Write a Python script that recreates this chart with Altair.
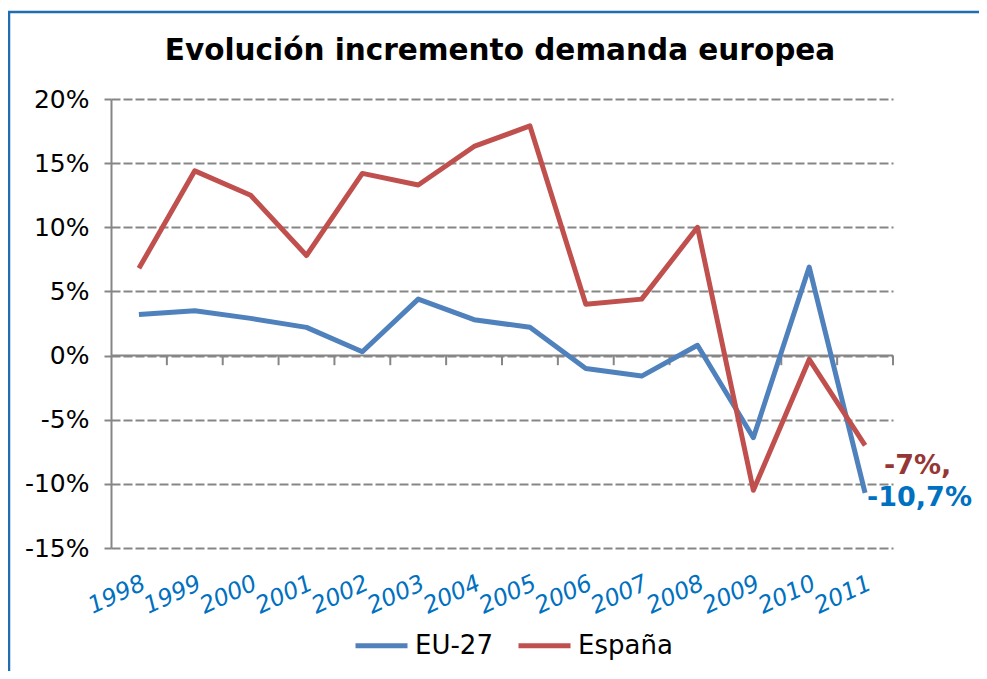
import altair as alt
import pandas as pd

# ---- data ----
years = [str(y) for y in range(1998, 2012)]
eu27 = [3.2, 3.5, 2.9, 2.2, 0.3, 4.4, 2.8, 2.2, -1.0, -1.6, 0.8, -6.4, 6.9, -10.7]
espana = [6.8, 14.4, 12.5, 7.8, 14.2, 13.3, 16.3, 17.9, 4.0, 4.4, 10.0, -10.5, -0.3, -7.0]
series_names = ["EU-27", "España"]
series_colors = ["#4F81BD", "#C0504D"]
y_ticks = [-15, -10, -5, 0, 5, 10, 15, 20]
ann_labels = ["-7%,", "-10,7%"]
ann_values = [-7.0, -10.7]
ann_colors = ["#953735", "#0070C0"]
title_text = "Evolución incremento demanda europea"

rows = []
for name, vals in zip(series_names, [eu27, espana]):
    for yr, v in zip(years, vals):
        rows.append({"year": yr, "serie": name, "value": v})
df = pd.DataFrame(rows)

W, H = 782, 449
FONT = "DejaVu Sans"
GRID = "#868686"

x_scale = alt.Scale(type="band", domain=years, paddingInner=0, paddingOuter=0)
y_scale = alt.Scale(domain=[-15, 20], nice=False, zero=False)

x_axis = alt.Axis(title=None, domain=False, ticks=False, grid=False,
                  labelAngle=-25, labelAlign="right", labelBaseline="top",
                  labelPadding=23, labelFont=FONT, labelFontStyle="italic",
                  labelFontSize=23.5, labelColor="#0070C0")
y_axis = alt.Axis(title=None, values=y_ticks, labelExpr="datum.value + '%'",
                  grid=True, gridDash=[9, 3], gridColor=GRID, gridWidth=2,
                  domainColor=GRID, domainWidth=2, tickColor=GRID, tickWidth=2,
                  tickSize=7, labelFont=FONT, labelFontSize=25,
                  labelColor="black", labelPadding=15)

legend = alt.Legend(title=None, orient="none", legendX=242, legendY=518,
                    direction="horizontal", symbolType="stroke",
                    symbolSize=2704, symbolStrokeWidth=5, labelFont=FONT,
                    labelFontSize=26, labelColor="black", labelOffset=5,
                    columnPadding=15, padding=0)

lines = alt.Chart(df).mark_line(strokeWidth=5, strokeJoin="round").encode(
    x=alt.X("year:O", scale=x_scale, axis=x_axis, bandPosition=0.5),
    y=alt.Y("value:Q", scale=y_scale, axis=y_axis),
    color=alt.Color("serie:N", scale=alt.Scale(domain=series_names, range=series_colors),
                    legend=legend),
)

zero_line = alt.Chart(pd.DataFrame({"a": [0]})).mark_rule(
    color=GRID, strokeWidth=2).encode(
    y=alt.YDatum(0, scale=y_scale, axis=y_axis),
    x=alt.value(0), x2=alt.value(W))

zero_ticks = alt.Chart(pd.DataFrame({"year": years})).mark_rule(
    color=GRID, strokeWidth=2).encode(
    x=alt.X("year:O", scale=x_scale, bandPosition=1, axis=x_axis),
    y=alt.YDatum(0, axis=y_axis), y2=alt.Y2Datum(-0.75))

def ann(i, dx, dy):
    d = pd.DataFrame({"year": ["2011"], "value": [ann_values[i]], "label": [ann_labels[i]]})
    return alt.Chart(d).mark_text(align="left", baseline="middle", dx=dx, dy=dy,
                                  font=FONT, fontWeight="bold", fontSize=27,
                                  color=ann_colors[i]).encode(
        x=alt.X("year:O", bandPosition=0.5, axis=x_axis),
        y=alt.Y("value:Q", axis=y_axis),
        text="label:N")

title = alt.Chart(pd.DataFrame({"t": [title_text]})).mark_text(
    font=FONT, fontWeight="bold", fontSize=29.5, color="black",
    align="center", baseline="alphabetic").encode(
    x=alt.value(W / 2 - 2), y=alt.value(-39), text="t:N")

frame_top = alt.Chart(pd.DataFrame({"a": [0]})).mark_rule(
    color="#1F6EB4", strokeWidth=2.5).encode(
    x=alt.value(-103), x2=alt.value(W + 120), y=alt.value(-87))
frame_left = alt.Chart(pd.DataFrame({"a": [0]})).mark_rule(
    color="#1F6EB4", strokeWidth=2.5).encode(
    x=alt.value(-102), y=alt.value(-87), y2=alt.value(H + 140))

chart = alt.layer(
    zero_line, zero_ticks, lines, ann(0, 19, 21), ann(1, 2, 5),
    title, frame_top, frame_left
).properties(
    width=W, height=H,
    autosize=alt.AutoSizeParams(type="none"),
    padding={"left": 103, "top": 91, "right": 86, "bottom": 123},
    background="white",
).configure_view(stroke=None)

chart.save("out.html", embed_options={"renderer": "svg", "actions": False})
